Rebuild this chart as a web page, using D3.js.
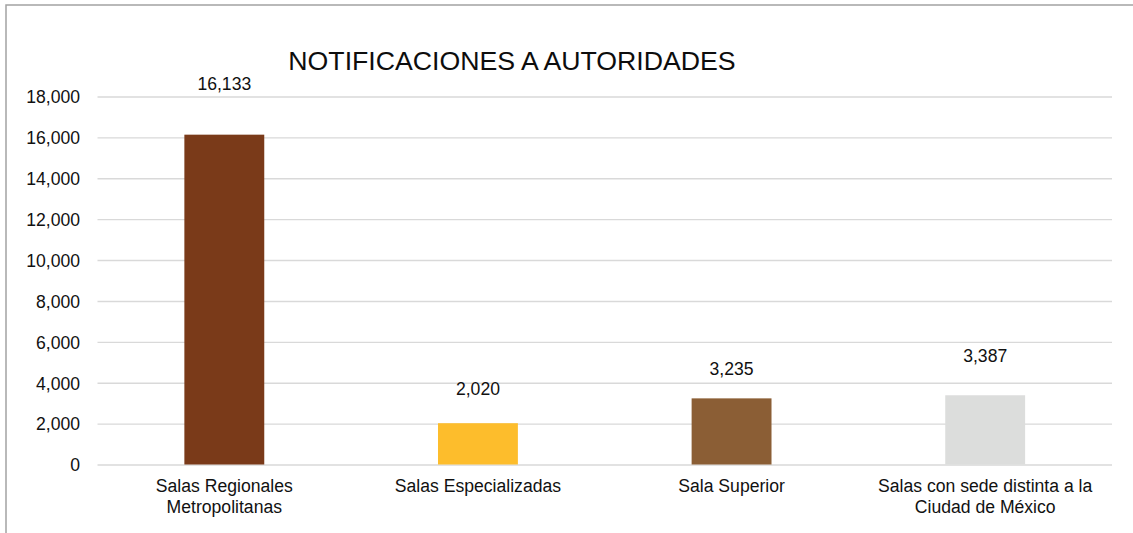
<!DOCTYPE html>
<html lang="es">
<head>
<meta charset="utf-8">
<script src="https://d3js.org/d3.v7.min.js"></script>
<style type="text/css">
body {
  margin: 0;
  background: #fff;
  font-family: "Liberation Sans", Arial, sans-serif;
}
.grid line {
  stroke: #d9d9d9;
  stroke-width: 1.4;
}
.grid text, .cats text {
  font-size: 17.6px;
  fill: #111;
}
.val {
  font-size: 17.6px;
  fill: #111;
}
</style>
<title>Notificaciones a autoridades</title>
</head>
<body>
<script type="text/javascript">
// datos
var categories = ["Salas Regionales\nMetropolitanas", "Salas Especializadas", "Sala Superior", "Salas con sede distinta a la\nCiudad de México"];
var values = [16133, 2020, 3235, 3387];
var yTicks = [0, 2000, 4000, 6000, 8000, 10000, 12000, 14000, 16000, 18000];
var colors = ["#7a3a19", "#fdbd2c", "#8b5e35", "#dcdddc"];
// how far above each bar its value label sits (px)
var labelNudge = [45, 28, 23, 33];

var W = 1133, H = 533;
var margin = {top: 96.5, right: 21, bottom: 68.5, left: 97.5},
    width = W - margin.left - margin.right,
    height = H - margin.top - margin.bottom;

var svg = d3.select("body").append("svg")
    .attr("width", W)
    .attr("height", H);

// frame (only top and left edges show in the crop)
svg.append("rect")
    .attr("x", 6).attr("y", 5)
    .attr("width", W + 20).attr("height", H + 20)
    .attr("fill", "#fff")
    .attr("stroke", "#a3a3a3")
    .attr("stroke-width", 1.5);

svg.append("text")
    .attr("x", 512)
    .attr("y", 70)
    .attr("text-anchor", "middle")
    .style("font-size", "26.7px")
    .style("fill", "#0d0d0d")
    .text("NOTIFICACIONES A AUTORIDADES");

var g = svg.append("g")
    .attr("transform", "translate(" + margin.left + "," + margin.top + ")");

var x = d3.scaleBand().domain(d3.range(categories.length)).range([0, width])
    .paddingInner(0.685).paddingOuter(0.3425);
var y = d3.scaleLinear().domain([0, 18000]).range([height, 0]);

var gy = g.append("g")
    .attr("class", "grid")
    .call(d3.axisLeft(y).tickValues(yTicks).tickSize(-width).tickPadding(17.5).tickFormat(d3.format(",")));
gy.select(".domain").remove();
gy.selectAll("text").attr("dy", "0.36em");

g.selectAll(".bar")
    .data(values)
    .enter().append("rect")
    .attr("class", "bar")
    .attr("x", function(d, i) { return x(i); })
    .attr("y", function(d) { return y(d); })
    .attr("width", x.bandwidth())
    .attr("height", function(d) { return height - y(d); })
    .attr("fill", function(d, i) { return colors[i]; });

g.selectAll(".val")
    .data(values)
    .enter().append("text")
    .attr("class", "val")
    .attr("x", function(d, i) { return x(i) + x.bandwidth() / 2; })
    .attr("y", function(d, i) { return y(d) - labelNudge[i]; })
    .attr("text-anchor", "middle")
    .text(function(d) { return d3.format(",")(d); });

var gx = g.append("g")
    .attr("class", "cats")
    .attr("transform", "translate(0," + height + ")")
    .call(d3.axisBottom(x).tickSize(0).tickFormat(function(i) { return ""; }));
gx.select(".domain").remove();

gx.selectAll(".tick text").each(function(i) {
  var t = d3.select(this).attr("y", 0).attr("dy", null);
  categories[i].split("\n").forEach(function(line, k) {
    t.append("tspan")
      .attr("x", 0)
      .attr("y", 27.5 + k * 21)
      .text(line);
  });
});
</script>
</body>
</html>
